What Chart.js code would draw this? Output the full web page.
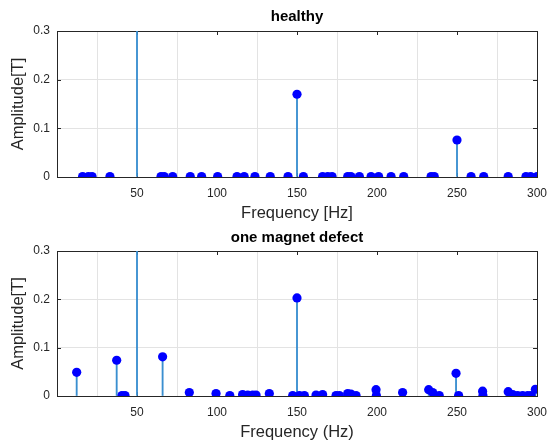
<!DOCTYPE html>
<html>
<head>
<meta charset="utf-8">
<script src="https://cdn.jsdelivr.net/npm/chart.js@4.4.1/dist/chart.umd.min.js"></script>
<style>
  html, body { margin: 0; padding: 0; background: #fff; }
  .box { position: absolute; left: 0; width: 548px; height: 223px; }
</style>
</head>
<body>
<div class="box" style="top:0"><canvas id="healthyChart" width="548" height="223"></canvas></div>
<div class="box" style="top:223px"><canvas id="defectChart" width="548" height="223"></canvas></div>
<script>
// spectrum lines (Hz / Tesla)
const healthyFreq = [16, 19.6, 21.9, 33.1, 50, 65, 67, 72.3, 83.3, 90.4, 100.4, 112.5, 117, 123.7, 133.3, 144.4,
  150, 154, 166, 169.2, 171.9, 181.7, 183.7, 189, 196.3, 201, 208.8, 216.7, 233.8, 235.8,
  250, 258.8, 266.7, 282, 293.1, 296, 300];
const healthyAmp = [0.001, 0.001, 0.001, 0.001, 0.6, 0.001, 0.001, 0.001, 0.001, 0.001, 0.001, 0.001, 0.001, 0.001, 0.001, 0.001,
  0.17, 0.001, 0.001, 0.001, 0.001, 0.001, 0.001, 0.001, 0.001, 0.001, 0.001, 0.001, 0.001, 0.001,
  0.076, 0.001, 0.001, 0.001, 0.001, 0.001, 0.001];

const defectFreq = [12.3, 37.3, 40.6, 42.5, 50, 66, 82.7, 99.4, 108, 116, 119.2, 122.3, 124.4, 132.7, 147.3,
  150, 151.5, 154.6, 161.9, 166, 174.4, 176.5, 181.7, 183.7, 186.9, 199.4, 199.6, 216,
  232.3, 234.8, 238.9, 249.4, 251, 266, 266.2, 282, 284.8, 287.9, 291, 294.2, 296.3, 299];
const defectAmp = [0.049, 0.074, 0.001, 0.001, 0.6, 0.081, 0.007, 0.005, 0.001, 0.003, 0.002, 0.002, 0.002, 0.005, 0.001,
  0.203, 0.001, 0.001, 0.002, 0.003, 0.001, 0.001, 0.005, 0.004, 0.001, 0.013, 0.001, 0.007,
  0.013, 0.007, 0.001, 0.047, 0.001, 0.010, 0.001, 0.009, 0.003, 0.001, 0.001, 0.001, 0.001, 0.014];

const xTicks = [50, 100, 150, 200, 250, 300];
const yTicks = [0, 0.1, 0.2, 0.3];

const stemColor = '#3a8fd0';
const markerColor = '#0000ff';
const axisColor = '#262626';
const gridColor = '#e3e3e3';
const fontFamily = '"Liberation Sans", Arial, Helvetica, sans-serif';

// matlab style box with inward ticks
const boxPlugin = {
  id: 'matlabBox',
  beforeDatasetsDraw(chart) {
    const { ctx, chartArea: a, scales } = chart;
    ctx.save();
    ctx.strokeStyle = axisColor;
    ctx.lineWidth = 1;
    ctx.strokeRect(Math.round(a.left) + 0.5, Math.round(a.top) + 0.5,
      Math.round(a.right - a.left), Math.round(a.bottom - a.top));
    ctx.beginPath();
    xTicks.forEach(v => {
      const px = Math.round(scales.x.getPixelForValue(v)) + 0.5;
      ctx.moveTo(px, a.top); ctx.lineTo(px, a.top + 4);
      ctx.moveTo(px, a.bottom); ctx.lineTo(px, a.bottom - 4);
    });
    yTicks.forEach(v => {
      const py = Math.round(scales.y.getPixelForValue(v)) + 0.5;
      ctx.moveTo(a.left, py); ctx.lineTo(a.left + 4, py);
      ctx.moveTo(a.right, py); ctx.lineTo(a.right - 4, py);
    });
    ctx.stroke();
    ctx.restore();
  }
};

function stemChart(id, title, xTitle, freq, amp, lay) {
  const pts = freq.map((f, i) => ({ x: f, y: amp[i] }));
  return new Chart(document.getElementById(id), {
    type: 'bar',
    data: {
      datasets: [
        { type: 'bar', data: pts, backgroundColor: stemColor, barThickness: 1.2, borderWidth: 0, order: 2 },
        { type: 'scatter', data: pts, pointRadius: 4.6, pointBackgroundColor: markerColor,
          pointBorderColor: markerColor, pointBorderWidth: 0, showLine: false, order: 1 }
      ]
    },
    options: {
      responsive: false,
      animation: false,
      layout: { padding: { left: 0, right: 11, top: 0, bottom: 0 } },
      plugins: {
        legend: { display: false },
        tooltip: { enabled: false },
        title: {
          display: true, text: title, color: '#000', fullSize: false,
          font: { family: fontFamily, size: 15, weight: 'bold' },
          padding: { top: lay.titleTop, bottom: lay.titleBottom }
        }
      },
      scales: {
        x: {
          type: 'linear', min: 0, max: 300, offset: false,
          afterBuildTicks: s => { s.ticks = xTicks.map(v => ({ value: v })); },
          afterFit: s => { s.height = lay.xHeight; s.paddingRight = 0; s.paddingLeft = 0; },
          ticks: { color: axisColor, padding: 9, maxRotation: 0, font: { family: fontFamily, size: 12 } },
          grid: { color: gridColor, drawTicks: false },
          border: { display: false },
          title: { display: true, text: xTitle, color: axisColor,
            font: { family: fontFamily, size: 16.5 }, padding: { top: 0, bottom: lay.xTitleBottom } }
        },
        y: {
          min: 0, max: 0.3,
          afterBuildTicks: s => { s.ticks = yTicks.map(v => ({ value: v })); },
          afterFit: s => { s.width = 57; s.paddingTop = 0; s.paddingBottom = 0; },
          ticks: { color: axisColor, padding: 7, font: { family: fontFamily, size: 12 },
            callback: v => String(Math.round(v * 10) / 10) },
          grid: { color: gridColor, drawTicks: false },
          border: { display: false },
          title: { display: true, text: 'Amplitude[T]', color: axisColor,
            font: { family: fontFamily, size: 16.5 }, padding: { top: 8.5, bottom: 0 } }
        }
      }
    },
    plugins: [boxPlugin]
  });
}

stemChart('healthyChart', 'healthy', 'Frequency [Hz]', healthyFreq, healthyAmp,
  { titleTop: 8, titleBottom: 5, xHeight: 46, xTitleBottom: 0 });
stemChart('defectChart', 'one magnet defect', 'Frequency (Hz)', defectFreq, defectAmp,
  { titleTop: 5.5, titleBottom: 4.5, xHeight: 50, xTitleBottom: 3.5 });
</script>
</body>
</html>
